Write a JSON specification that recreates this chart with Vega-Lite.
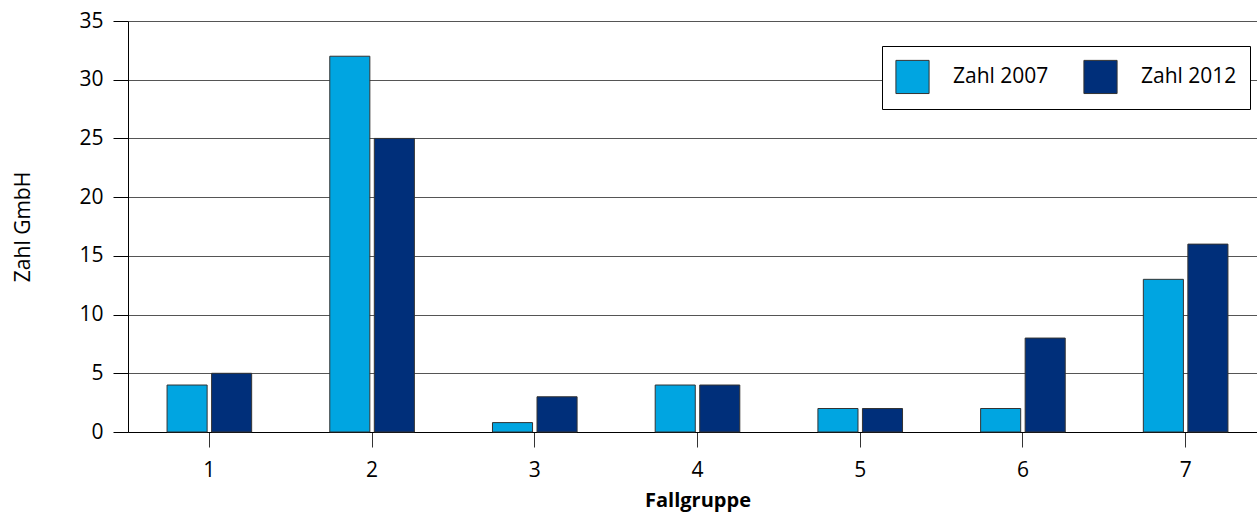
{
  "$schema": "https://vega.github.io/schema/vega-lite/v6.json",
  "width": 1129,
  "height": 411,
  "autosize": "none",
  "padding": {"left": 128, "top": 21, "right": 0, "bottom": 80},
  "background": "white",
  "config": {"font": "Open Sans", "view": {"stroke": null}},
  "data": {
    "values": [
      {"Fallgruppe": 1, "Serie": "Zahl 2007", "Zahl": 4},
      {"Fallgruppe": 1, "Serie": "Zahl 2012", "Zahl": 5},
      {"Fallgruppe": 2, "Serie": "Zahl 2007", "Zahl": 32},
      {"Fallgruppe": 2, "Serie": "Zahl 2012", "Zahl": 25},
      {"Fallgruppe": 3, "Serie": "Zahl 2007", "Zahl": 0.8},
      {"Fallgruppe": 3, "Serie": "Zahl 2012", "Zahl": 3},
      {"Fallgruppe": 4, "Serie": "Zahl 2007", "Zahl": 4},
      {"Fallgruppe": 4, "Serie": "Zahl 2012", "Zahl": 4},
      {"Fallgruppe": 5, "Serie": "Zahl 2007", "Zahl": 2},
      {"Fallgruppe": 5, "Serie": "Zahl 2012", "Zahl": 2},
      {"Fallgruppe": 6, "Serie": "Zahl 2007", "Zahl": 2},
      {"Fallgruppe": 6, "Serie": "Zahl 2012", "Zahl": 8},
      {"Fallgruppe": 7, "Serie": "Zahl 2007", "Zahl": 13},
      {"Fallgruppe": 7, "Serie": "Zahl 2012", "Zahl": 16}
    ]
  },
  "mark": {"type": "bar", "stroke": "#333333", "strokeWidth": 1},
  "encoding": {
    "x": {
      "field": "Fallgruppe",
      "type": "ordinal",
      "scale": {"range": [0, 1139], "paddingInner": 0.48, "paddingOuter": 0.24},
      "axis": {
        "title": "Fallgruppe",
        "titleFontWeight": "bold",
        "titleFontSize": 20,
        "titleColor": "black",
        "titlePadding": 10,
        "labelAngle": 0,
        "labelFontSize": 21,
        "labelColor": "black",
        "labelPadding": 12,
        "tickSize": 15,
        "tickColor": "#333333",
        "domainColor": "black"
      }
    },
    "xOffset": {"field": "Serie", "scale": {"paddingInner": 0.1, "paddingOuter": 0}},
    "y": {
      "field": "Zahl",
      "type": "quantitative",
      "scale": {"domain": [0, 35], "nice": false},
      "axis": {
        "title": "Zahl GmbH",
        "titleFontWeight": "normal",
        "titleFontSize": 21,
        "titleColor": "black",
        "titlePadding": 45,
        "values": [0, 5, 10, 15, 20, 25, 30, 35],
        "tickSize": 15,
        "tickColor": "black",
        "labelPadding": 10,
        "labelFontSize": 21,
        "labelColor": "black",
        "gridColor": "#555555",
        "domainColor": "black"
      }
    },
    "color": {
      "field": "Serie",
      "type": "nominal",
      "scale": {"domain": ["Zahl 2007", "Zahl 2012"], "range": ["#00a5e1", "#002f7a"]},
      "legend": {
        "orient": "none",
        "legendX": 754,
        "legendY": 25,
        "direction": "horizontal",
        "title": null,
        "fillColor": "white",
        "strokeColor": "black",
        "padding": 13,
        "symbolType": "square",
        "symbolSize": 1100,
        "symbolStrokeColor": "#333333",
        "symbolStrokeWidth": 1,
        "symbolOpacity": 1,
        "labelFontSize": 21,
        "labelColor": "black",
        "labelOffset": 23,
        "columnPadding": 32,
        "labelLimit": 0
      }
    }
  }
}
